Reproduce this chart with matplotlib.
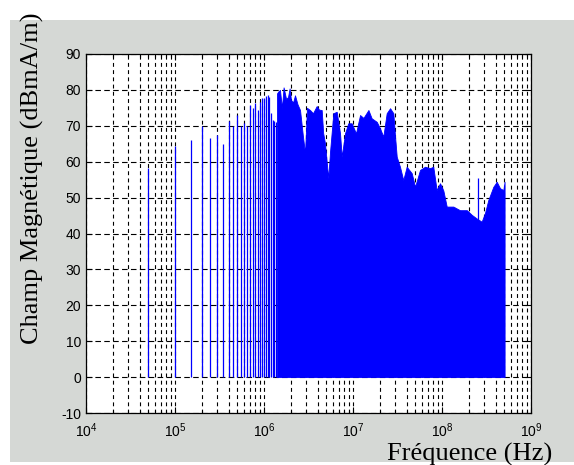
import numpy as np
import matplotlib
matplotlib.use("Agg")
import matplotlib.pyplot as plt
from matplotlib.patches import Rectangle
from matplotlib.ticker import LogLocator, FixedLocator

plt.rcParams["mathtext.fontset"] = "custom"
plt.rcParams["mathtext.rm"] = "Liberation Sans"
plt.rcParams["axes.unicode_minus"] = False

# discrete harmonics (Hz) and level (dBmA/m)
harm_freq = [50e3, 100e3, 150e3, 200e3, 250e3, 300e3, 350e3, 400e3, 450e3,
             500e3, 550e3, 600e3, 650e3, 700e3, 750e3, 800e3, 850e3, 900e3,
             950e3, 1000e3, 1050e3, 1100e3, 1150e3, 1200e3, 1250e3, 1300e3,
             1350e3]
harm_level = [58.3, 64.5, 66.0, 70.0, 66.7, 67.4, 64.9, 71.3, 70.0,
              73.1, 70.0, 70.8, 70.0, 75.8, 75.0, 76.4, 74.5, 76.7,
              77.7, 77.7, 78.3, 78.6, 78.1, 73.5, 71.6, 71.3,
              71.0]

# envelope of the dense part of the spectrum
env_freq = [1.40e6, 1.44e6, 1.51e6, 1.59e6, 1.66e6, 1.77e6, 1.86e6, 1.94e6,
            2.01e6, 2.12e6, 2.23e6, 2.38e6, 2.54e6, 2.74e6, 2.89e6, 3.04e6,
            3.29e6, 3.55e6, 3.91e6, 4.15e6, 4.45e6, 4.62e6, 4.84e6, 5.27e6,
            5.52e6, 6.01e6, 6.56e6, 7.15e6, 7.47e6, 8.13e6, 8.85e6, 9.67e6,
            1.08e7, 1.20e7, 1.31e7, 1.49e7, 1.62e7, 1.85e7, 2.01e7, 2.19e7,
            2.39e7, 2.61e7, 2.84e7, 2.97e7, 3.10e7, 3.37e7, 3.67e7, 4.01e7,
            4.57e7, 4.98e7, 5.66e7, 6.44e7, 7.33e7, 7.98e7, 8.71e7, 9.50e7,
            1.035e8, 1.13e8, 1.34e8, 1.59e8, 1.90e8, 2.16e8, 2.45e8, 2.79e8,
            3.04e8, 3.31e8, 3.77e8, 4.12e8, 4.49e8, 4.89e8, 5.05e8]
env_level = [79.0, 79.5, 80.0, 75.0, 80.7, 77.5, 78.0, 80.4,
             77.2, 76.5, 78.5, 76.0, 74.4, 67.0, 62.4, 75.0,
             74.4, 73.5, 75.5, 74.5, 74.4, 68.0, 65.2, 55.4,
             62.8, 73.5, 73.9, 67.9, 61.4, 67.9, 70.7, 70.7,
             67.9, 73.0, 72.2, 74.4, 72.1, 71.1, 69.3, 67.0,
             73.5, 74.9, 73.5, 67.0, 61.4, 58.6, 54.9, 58.6,
             56.8, 53.0, 57.7, 58.6, 58.2, 58.6, 52.1, 54.0,
             52.0, 47.5, 47.5, 46.5, 46.5, 45.2, 44.2, 43.3,
             45.7, 49.3, 53.0, 54.4, 52.6, 52.1, 54.4]

# isolated spike
spike_freq = [2.56e8]
spike_level = [55.4]

fig = plt.figure(figsize=(5.74, 4.65), dpi=100, facecolor="white")
fig.add_artist(Rectangle((10 / 574, 3 / 465), 564 / 574, 442 / 465,
                         transform=fig.transFigure, facecolor="#d5d8d5",
                         edgecolor="none", zorder=-1))

ax = fig.add_axes([86 / 574, 1 - 413 / 465, 445 / 574, 359 / 465])
ax.set_facecolor("white")

ax.vlines(harm_freq, 0, harm_level, color="blue", lw=0.9, zorder=3)
ax.vlines(spike_freq, 0, spike_level, color="blue", lw=0.9, zorder=3)
ax.fill_between(env_freq, 0, env_level, color="blue", lw=0.6, zorder=3)

ax.set_xscale("log")
ax.set_xlim(1e4, 1e9)
ax.set_ylim(-10, 90)
ax.yaxis.set_major_locator(FixedLocator(np.arange(-10, 91, 10)))
ax.xaxis.set_major_locator(LogLocator(base=10, numticks=10))
ax.xaxis.set_minor_locator(LogLocator(base=10, subs=np.arange(2, 10), numticks=50))

ax.set_axisbelow(True)
ax.grid(axis="x", which="both", color="black", lw=0.8, ls=(0, (3.5, 3)))
ax.grid(axis="y", which="major", color="black", lw=0.8, ls=(0, (5, 3)))

ax.tick_params(which="both", direction="in", top=True, right=True,
               labelsize=10, length=4, width=0.8)
ax.tick_params(which="minor", length=2)
ax.tick_params(axis="x", pad=6)
for lab in ax.get_xticklabels() + ax.get_yticklabels():
    lab.set_family("Liberation Sans")

for s in ax.spines.values():
    s.set_linewidth(0.9)

ax.set_xlabel("Fréquence (Hz)", family="Liberation Serif", fontsize=19)
ax.xaxis.set_label_coords(0.862, -0.083)
ax.set_ylabel("Champ Magnétique (dBmA/m)", family="Liberation Serif", fontsize=19)
ax.yaxis.set_label_coords(-0.095, 0.655)

fig.savefig("out.png", dpi=100, facecolor=fig.get_facecolor())
